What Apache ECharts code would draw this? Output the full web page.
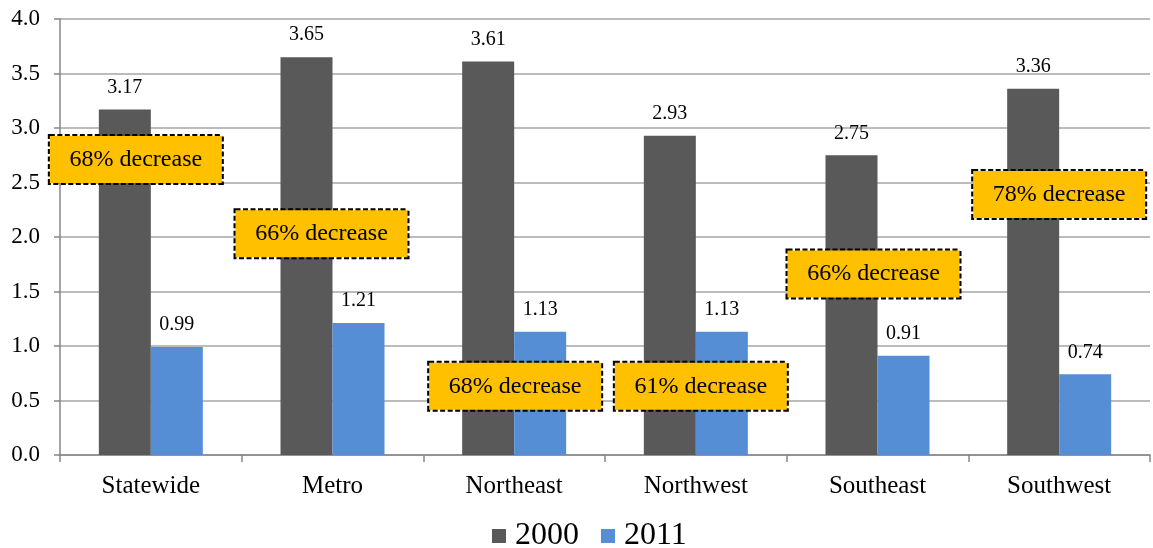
<!DOCTYPE html>
<html>
<head>
<meta charset="utf-8">
<title>Rate by region, 2000 vs 2011</title>
<script src="https://cdn.jsdelivr.net/npm/echarts@6/dist/echarts.min.js"></script>
<style>
  html, body { margin: 0; padding: 0; background: #ffffff; }
  #chart { width: 1153px; height: 548px; }
</style>
</head>
<body>
<div id="chart"></div>
<script>
// Regions and values
const regions = ['Statewide', 'Metro', 'Northeast', 'Northwest', 'Southeast', 'Southwest'];
const rate2000 = [3.17, 3.65, 3.61, 2.93, 2.75, 3.36];
const rate2011 = [0.99, 1.21, 1.13, 1.13, 0.91, 0.74];
const pctDecrease = [68, 66, 68, 61, 66, 78];
const yTicks = ['0.0', '0.5', '1.0', '1.5', '2.0', '2.5', '3.0', '3.5', '4.0'];

// Where each call-out box sits: centre height in axis units,
// sideways nudge in px from the centre of the region's bar pair
const notePlacement = [
  { y: 2.71, dx: -15 },
  { y: 2.03, dx: -11 },
  { y: 0.63, dx: 1 },
  { y: 0.63, dx: 5 },
  { y: 1.66, dx: -4 },
  { y: 2.39, dx: 0 }
];

const FONT = '"Liberation Serif", "Times New Roman", serif';
const DARK = '#595959';
const BLUE = '#558ED5';
const GRID = '#A6A6A6';
const BAR_W = 52;

// markPoints hang off the 2000 bar, so shift by half a bar to reach the pair's centre
const notes = regions.map((r, i) => ({
  coord: [i, notePlacement[i].y],
  value: pctDecrease[i] + '% decrease',
  label: { offset: [notePlacement[i].dx + BAR_W / 2, 0] }
}));

const chart = echarts.init(document.getElementById('chart'), null, { renderer: 'canvas' });

chart.setOption({
  animation: false,
  backgroundColor: '#ffffff',
  textStyle: { fontFamily: FONT },
  grid: { left: 60, right: 3, top: 19, bottom: 93, containLabel: false },
  legend: {
    bottom: -9,
    left: 487,
    itemWidth: 14,
    itemHeight: 14,
    itemGap: 22,
    icon: 'rect',
    textStyle: { fontFamily: FONT, fontSize: 32, color: '#000', padding: [0, 0, 0, 4] },
    data: ['2000', '2011']
  },
  xAxis: {
    type: 'category',
    data: regions,
    axisLine: { show: true, lineStyle: { color: '#868686', width: 1.5 } },
    axisTick: { show: true, alignWithLabel: false, length: 7, lineStyle: { color: '#868686', width: 1.5 } },
    axisLabel: { fontFamily: FONT, fontSize: 25, color: '#000', margin: 19 }
  },
  yAxis: {
    type: 'value',
    min: 0,
    max: 4,
    interval: 0.5,
    axisLine: { show: true, lineStyle: { color: '#868686', width: 1.5 } },
    axisTick: { show: true, length: 6, lineStyle: { color: '#868686', width: 1.5 } },
    splitLine: { show: true, lineStyle: { color: GRID, width: 1.5 } },
    axisLabel: {
      fontFamily: FONT, fontSize: 23, color: '#000', margin: 20,
      formatter: (v) => yTicks[Math.round(v / 0.5)]
    }
  },
  series: [
    {
      name: '2000',
      type: 'bar',
      data: rate2000,
      barWidth: BAR_W,
      barGap: '0%',
      itemStyle: { color: DARK },
      label: {
        show: true, position: 'top', distance: 12,
        fontFamily: FONT, fontSize: 20, color: '#000',
        formatter: (p) => p.value.toFixed(2)
      },
      markPoint: {
        symbol: 'rect',
        symbolSize: 1,
        itemStyle: { color: 'rgba(0,0,0,0)' },
        label: {
          show: true,
          position: 'inside',
          formatter: (p) => p.data.value,
          fontFamily: FONT,
          fontSize: 24,
          color: '#000',
          backgroundColor: '#FFC000',
          borderColor: '#000',
          borderWidth: 2,
          borderType: [5, 2.5],
          width: 140,
          height: 23,
          lineHeight: 23,
          align: 'center',
          verticalAlign: 'middle',
          padding: [12, 16, 12, 16]
        },
        data: notes
      },
      z: 2
    },
    {
      name: '2011',
      type: 'bar',
      data: rate2011,
      barWidth: BAR_W,
      barGap: '0%',
      itemStyle: { color: BLUE },
      label: {
        show: true, position: 'top', distance: 12,
        fontFamily: FONT, fontSize: 20, color: '#000',
        formatter: (p) => p.value.toFixed(2)
      },
      z: 2
    }
  ]
});
</script>
</body>
</html>
